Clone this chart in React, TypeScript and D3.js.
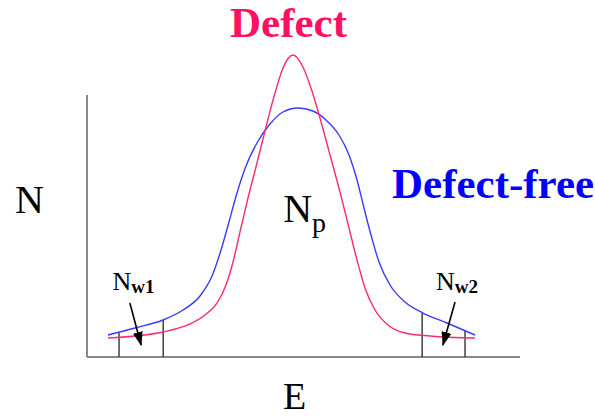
import React from "react";
import * as d3 from "d3";

// Energy (E) / count (N) readings, arbitrary units
const defectE = [4.85, 17.55, 23.79, 27.25, 30.02, 32.1, 33.72, 35.33, 37.18, 39.26, 41.34, 43.42, 45.27, 47.58, 49.88, 51.73, 53.81, 56.12, 58.43, 60.51, 62.36, 64.2, 66.51, 69.52, 73.44, 79.21, 89.61];
const defectN = [7.25, 9.54, 12.6, 16.03, 20.61, 27.48, 36.26, 47.71, 60.69, 74.05, 87.79, 100.76, 110.31, 115.27, 110.69, 102.67, 91.22, 77.1, 62.98, 49.24, 37.02, 26.34, 17.94, 12.21, 9.16, 8.02, 7.25];

const freeE = [4.85, 11.09, 17.55, 22.17, 26.1, 28.87, 30.95, 32.79, 34.64, 36.72, 39.26, 42.26, 45.27, 48.73, 52.19, 55.2, 58.2, 60.51, 62.36, 63.97, 65.59, 67.44, 69.98, 73.44, 77.6, 83.14, 89.61];
const freeN = [8.4, 11.07, 14.12, 17.94, 23.28, 30.92, 40.84, 51.53, 62.6, 72.9, 81.68, 88.93, 93.51, 95.04, 93.89, 90.46, 84.73, 77.1, 67.56, 56.87, 46.56, 36.26, 27.48, 20.99, 16.79, 12.98, 8.4];

// window boundaries (E) and their heights on the defect-free curve (N)
const windowE = [7.4, 17.6, 77.4, 87.3];
const windowTopN = [9.2, 14.1, 16.8, 9.9];

// arrows: [E0, N0, E1, N1]
const arrowW1 = [9.9, 20.6, 12.5, 4.6];
const arrowW2 = [85.0, 21.0, 82.2, 4.6];

const W = 595;
const H = 419;
const serif = "'Liberation Serif', 'Times New Roman', serif";

export default function App() {
  const x = d3.scaleLinear().domain([0, 100]).range([87, 520]);
  const y = d3.scaleLinear().domain([0, 100]).range([357, 95]);

  const line = d3
    .line<[number, number]>()
    .x((d) => x(d[0]))
    .y((d) => y(d[1]))
    .curve(d3.curveMonotoneX);

  const defectPts = defectE.map((e, i) => [e, defectN[i]] as [number, number]);
  const freePts = freeE.map((e, i) => [e, freeN[i]] as [number, number]);

  const arrow = (a: number[], key: string) => (
    <line
      key={key}
      x1={x(a[0])}
      y1={y(a[1])}
      x2={x(a[2])}
      y2={y(a[3])}
      stroke="#000"
      strokeWidth={1.6}
      markerEnd="url(#ah)"
    />
  );

  return (
    <svg
      width={W}
      height={H}
      style={{ position: "absolute", left: 0, top: 0, background: "#fff" }}
    >
      <defs>
        <marker
          id="ah"
          viewBox="0 0 14 10"
          refX={13}
          refY={5}
          markerWidth={14}
          markerHeight={10}
          orient="auto"
          markerUnits="userSpaceOnUse"
        >
          <path d="M0,0 L14,5 L0,10 z" fill="#000" />
        </marker>
      </defs>

      {/* axes */}
      <line x1={x(0)} y1={y(0)} x2={x(0)} y2={y(100)} stroke="#888" strokeWidth={2} />
      <line x1={x(0)} y1={y(0)} x2={x(100)} y2={y(0)} stroke="#888" strokeWidth={2} />

      {/* window lines */}
      {windowE.map((e, i) => (
        <line
          key={"w" + i}
          x1={x(e)}
          x2={x(e)}
          y1={y(0)}
          y2={y(windowTopN[i])}
          stroke="#333"
          strokeWidth={1.4}
        />
      ))}

      {/* curves */}
      <path d={line(freePts) || ""} fill="none" stroke="#3a3aff" strokeWidth={1.4} />
      <path d={line(defectPts) || ""} fill="none" stroke="#ff2a6a" strokeWidth={1.4} />

      {arrow(arrowW1, "a1")}
      {arrow(arrowW2, "a2")}

      {/* labels */}
      <text x={230} y={37} fontFamily={serif} fontWeight="bold" fontSize={43} fill="#ff1060">
        Defect
      </text>
      <text x={392} y={198} fontFamily={serif} fontWeight="bold" fontSize={43} fill="#0000ff">
        Defect-free
      </text>
      <text x={15} y={213} fontFamily={serif} fontSize={40} fill="#000">
        N
      </text>
      <text x={283} y={409} fontFamily={serif} fontSize={38} fill="#000">
        E
      </text>
      <text x={x(45.3)} y={y(51.5)} fontFamily={serif} fontSize={40} fill="#000">
        N
        <tspan fontSize={28} dy={10}>p</tspan>
      </text>
      <text x={x(5.9)} y={y(25.6)} fontFamily={serif} fontSize={26} fill="#000">
        N
        <tspan fontSize={19} fontWeight="bold" dy={3}>w1</tspan>
      </text>
      <text x={x(80.6)} y={y(25.6)} fontFamily={serif} fontSize={26} fill="#000">
        N
        <tspan fontSize={19} fontWeight="bold" dy={3}>w2</tspan>
      </text>
    </svg>
  );
}
